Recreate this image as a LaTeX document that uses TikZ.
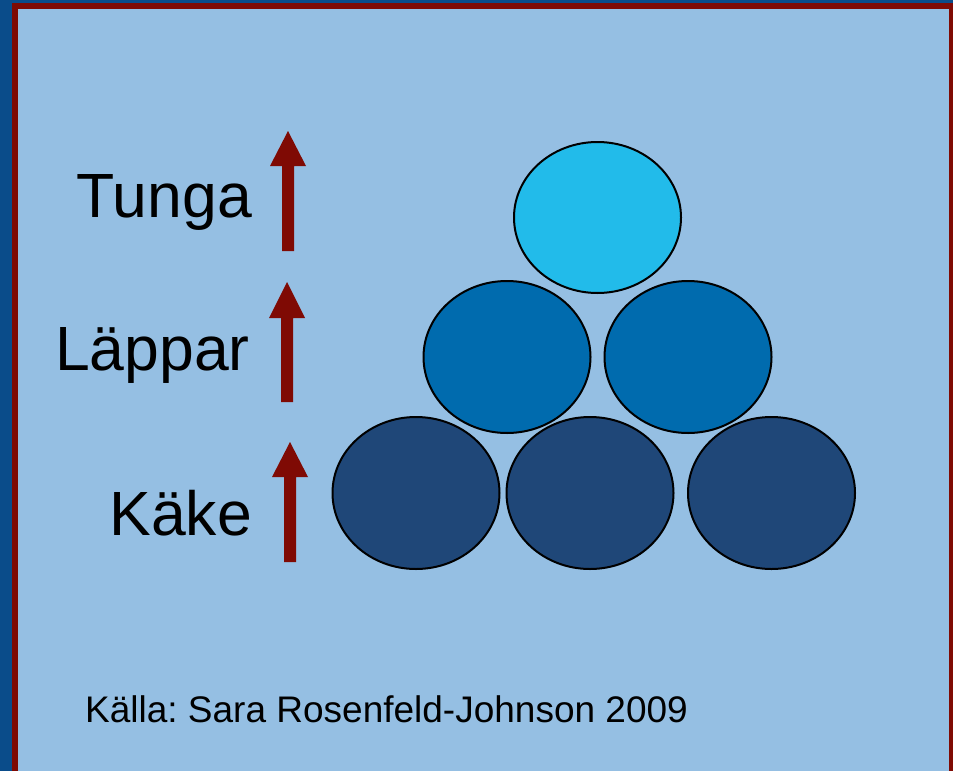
\documentclass[tikz,border=0pt]{standalone}
\usepackage{fontspec}
\setmainfont{Liberation Sans}
\frenchspacing
\definecolor{edgeblue}{HTML}{0A4C8A}
\definecolor{frame}{HTML}{7F0A04}
\definecolor{panel}{HTML}{95BFE3}
\definecolor{toneTop}{HTML}{22BBEA}
\definecolor{toneMid}{HTML}{006BAE}
\definecolor{toneLow}{HTML}{1F4778}
\tikzset{
  ball/.style={draw=black, line width=2pt},
  upArrow/.style={fill=frame, draw=none},
  label/.style={inner sep=0pt, font=\fontsize{62.5}{70}\selectfont, anchor=base east},
}
\begin{document}
\begin{tikzpicture}[x=1pt, y=-1pt]
  \useasboundingbox (0,0) rectangle (953,771);
  % outer background and frame
  \fill[edgeblue] (0,0) rectangle (953,771);
  \fill[frame] (12,3) rectangle (953,771);
  \fill[panel] (18,9) rectangle (949,771);

  % stacked balls
  \path[ball, fill=toneLow] (416,493) ellipse [x radius=83.5, y radius=76];
  \path[ball, fill=toneLow] (590,493) ellipse [x radius=83.5, y radius=76];
  \path[ball, fill=toneLow] (771.5,493) ellipse [x radius=83.5, y radius=76];
  \path[ball, fill=toneMid] (507,357) ellipse [x radius=83.5, y radius=76];
  \path[ball, fill=toneMid] (688,357) ellipse [x radius=83.5, y radius=76];
  \path[ball, fill=toneTop] (597.5,217.5) ellipse [x radius=83.5, y radius=75.5];

  % upward arrows
  \fill[upArrow] (288,131) -- (306,166) -- (294,166) -- (294,251) -- (282,251) -- (282,166) -- (270,166) -- cycle;
  \fill[upArrow] (287,282) -- (305,318) -- (293,318) -- (293,402) -- (281,402) -- (281,318) -- (269,318) -- cycle;
  \fill[upArrow] (290,442) -- (308,477) -- (296,477) -- (296,562) -- (284,562) -- (284,477) -- (272,477) -- cycle;

  % labels
  \node[label] (tunga) at (252,217) {Tunga};
  \node[label] (lappar) at (250,370) {Läppar};
  \node[label] (kake) at (252,535) {Käke};
  \node[inner sep=0pt, anchor=base west, font=\fontsize{37}{42}\selectfont] (source) at (85,722) {Källa: Sara Rosenfeld-Johnson 2009};
\end{tikzpicture}
\end{document}
